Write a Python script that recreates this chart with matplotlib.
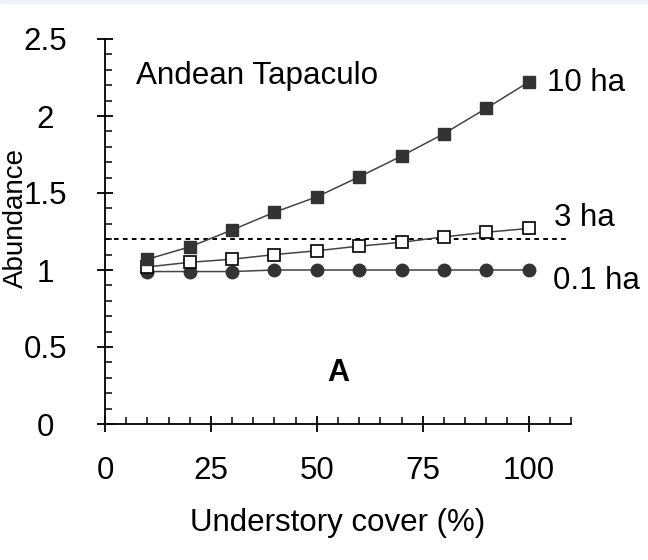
import matplotlib
matplotlib.use("Agg")
import matplotlib.pyplot as plt
from matplotlib.patches import Rectangle
from matplotlib.ticker import MultipleLocator

plt.rcParams['font.family'] = ['Liberation Sans', 'DejaVu Sans']

cover = [10, 20, 30, 40, 50, 60, 70, 80, 90, 100]
ha10 = [1.07, 1.15, 1.26, 1.375, 1.475, 1.605, 1.74, 1.885, 2.05, 2.22]
ha3 = [1.02, 1.05, 1.07, 1.10, 1.125, 1.155, 1.18, 1.215, 1.245, 1.27]
ha01 = [0.99, 0.99, 0.99, 1.0, 1.0, 1.0, 1.0, 1.0, 1.0, 1.0]
threshold = 1.2
series_labels = ["10 ha", "3 ha", "0.1 ha"]
xticks = [0, 25, 50, 75, 100]
yticks = [0, 0.5, 1, 1.5, 2, 2.5]
ytick_labels = ["0", "0.5", "1", "1.5", "2", "2.5"]

W, H = 648, 560
FS = 22.5
fig = plt.figure(figsize=(W / 100, H / 100), dpi=100)
fig.patches.append(Rectangle((0, 1 - 3 / H), 1, 3 / H, transform=fig.transFigure,
                             color='#eef3fa', zorder=0))
ax = fig.add_axes([105 / W, 1 - 424 / H, (571 - 105) / W, (424 - 39) / H])

dark = '#333333'
ax.plot([0, 109], [threshold, threshold], color='black', lw=1.4,
        linestyle=(0, (2.4, 2.2)), zorder=1)
ax.plot(cover, ha01, color='#444444', lw=1.1, marker='o', ms=9,
        mfc=dark, mec=dark, zorder=3)
ax.plot(cover, ha3, color='#444444', lw=1.1, marker='s', ms=8.5,
        mfc='white', mec='black', mew=1.2, zorder=4)
ax.plot(cover, ha10, color='#444444', lw=1.1, marker='s', ms=8.5,
        mfc=dark, mec=dark, zorder=5)

ax.set_xlim(0, 110)
ax.set_ylim(0, 2.5)
for s in ['top', 'right']:
    ax.spines[s].set_visible(False)
for s in ['left', 'bottom']:
    ax.spines[s].set_linewidth(1.3)

ax.set_xticks(xticks)
ax.set_yticks(yticks)
ax.set_yticklabels(ytick_labels)
ax.xaxis.set_minor_locator(MultipleLocator(5))
ax.yaxis.set_minor_locator(MultipleLocator(0.1))
ax.tick_params(which='major', direction='inout', length=11.5, width=1.3,
               labelsize=FS)
ax.tick_params(which='minor', direction='in', length=5, width=1.1)
ax.tick_params(axis='x', which='major', pad=17)
for lab in ax.get_yticklabels():
    lab.set_horizontalalignment('center')
ax.tick_params(axis='y', which='major', pad=37)

ax.set_xlabel("Understory cover (%)", fontsize=FS, labelpad=16)
fig.text(16 / W, 1 - 218 / H, "Abundance", rotation=90, fontsize=20,
         ha='center', va='center')

ax.text(104.3, 2.215, series_labels[0], fontsize=FS, va='center', ha='left')
ax.text(106.0, 1.34, series_labels[1], fontsize=FS, va='center', ha='left')
ax.text(105.8, 0.93, series_labels[2], fontsize=FS, va='center', ha='left')
ax.text(7.3, 2.26, "Andean Tapaculo", fontsize=22.6, va='center', ha='left')
ax.text(55, 0.33, "A", fontsize=22, fontweight='bold', va='center', ha='center')

fig.savefig("out.png", dpi=100)
